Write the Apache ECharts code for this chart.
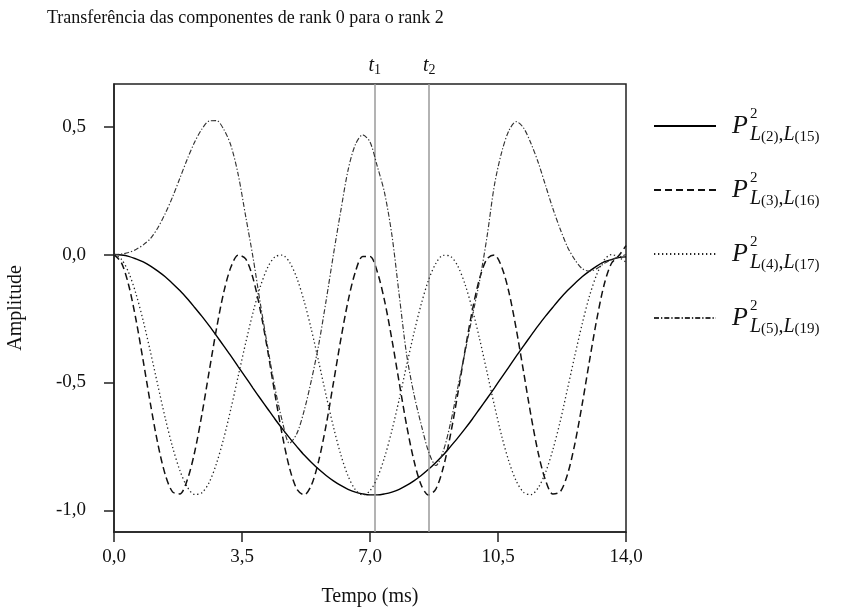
<!DOCTYPE html>
<html><head><meta charset="utf-8">
<script src="https://cdn.jsdelivr.net/npm/echarts@6/dist/echarts.min.js"></script>
<style>html,body{margin:0;padding:0;background:#fff}#c{width:843px;height:616px}</style>
</head><body><div id="c"></div>
<script>
// time samples (ms)
const time = [0,0.2,0.4,0.6,0.8,1.0,1.2,1.4,1.6,1.8,2.0,2.2,2.4,2.6,2.8,3.0,3.2,3.4,3.6,3.8,
  4.0,4.2,4.4,4.6,4.8,5.0,5.2,5.4,5.6,5.8,6.0,6.2,6.4,6.6,6.8,7.0,7.2,7.4,7.6,7.8,
  8.0,8.2,8.4,8.6,8.8,9.0,9.2,9.4,9.6,9.8,10.0,10.2,10.4,10.6,10.8,11.0,11.2,11.4,11.6,11.8,
  12.0,12.2,12.4,12.6,12.8,13.0,13.2,13.4,13.6,13.8,14.0];
// P^2_{L(2),L(15)}  (solid)
const p2_15 = [0,-0.002,-0.007,-0.017,-0.029,-0.045,-0.065,-0.087,-0.113,-0.141,
  -0.172,-0.206,-0.241,-0.278,-0.317,-0.357,-0.397,-0.439,-0.480,-0.522,
  -0.563,-0.603,-0.643,-0.681,-0.717,-0.751,-0.784,-0.813,-0.840,-0.864,
  -0.885,-0.903,-0.918,-0.929,-0.936,-0.940,-0.940,-0.936,-0.929,-0.918,
  -0.903,-0.885,-0.864,-0.840,-0.813,-0.784,-0.751,-0.717,-0.681,-0.643,
  -0.603,-0.563,-0.522,-0.480,-0.439,-0.397,-0.357,-0.317,-0.278,-0.241,
  -0.206,-0.172,-0.141,-0.113,-0.087,-0.065,-0.045,-0.029,-0.020,-0.012,-0.009];
// P^2_{L(3),L(16)}  (dashed)
const p3_16 = [0,-0.031,-0.119,-0.254,-0.417,-0.587,-0.741,-0.860,-0.928,-0.936,
  -0.883,-0.776,-0.628,-0.459,-0.292,-0.148,-0.048,-0.002,-0.017,-0.092,
  -0.217,-0.374,-0.545,-0.705,-0.835,-0.917,-0.940,-0.901,-0.805,-0.667,
  -0.502,-0.333,-0.182,-0.068,-0.008,-0.008,-0.068,-0.182,-0.333,-0.502,
  -0.667,-0.805,-0.901,-0.940,-0.917,-0.835,-0.705,-0.545,-0.374,-0.217,
  -0.092,-0.017,-0.002,-0.048,-0.148,-0.292,-0.459,-0.628,-0.776,-0.883,
  -0.936,-0.928,-0.860,-0.741,-0.587,-0.417,-0.254,-0.119,-0.035,-0.005,0.035];
// P^2_{L(4),L(17)}  (dotted)
const p4_17 = [0,-0.018,-0.070,-0.153,-0.260,-0.383,-0.512,-0.639,-0.752,-0.844,
  -0.908,-0.938,-0.932,-0.892,-0.818,-0.719,-0.601,-0.473,-0.346,-0.227,
  -0.126,-0.051,-0.009,-0.002,-0.030,-0.092,-0.183,-0.295,-0.421,-0.551,
  -0.674,-0.782,-0.866,-0.920,-0.940,-0.924,-0.873,-0.792,-0.687,-0.565,
  -0.434,-0.308,-0.194,-0.100,-0.035,-0.003,-0.007,-0.045,-0.117,-0.215,
  -0.332,-0.460,-0.589,-0.709,-0.810,-0.886,-0.930,-0.939,-0.912,-0.852,
  -0.763,-0.653,-0.525,-0.396,-0.272,-0.163,-0.078,-0.022,0.000,-0.010,-0.030];
// P^2_{L(5),L(19)}  (dash-dot)
const p5_19 = [0,0.002,0.008,0.020,0.038,0.063,0.105,0.160,0.225,0.298,
  0.372,0.438,0.490,0.522,0.524,0.490,0.425,0.310,0.150,-0.010,
  -0.190,-0.360,-0.520,-0.650,-0.738,-0.700,-0.610,-0.490,-0.350,-0.180,
  0.000,0.170,0.330,0.430,0.468,0.440,0.345,0.240,0.075,-0.160,
  -0.390,-0.545,-0.665,-0.770,-0.825,-0.770,-0.660,-0.520,-0.380,-0.240,
  -0.100,0.070,0.270,0.400,0.485,0.520,0.495,0.435,0.360,0.270,
  0.180,0.100,0.030,-0.020,-0.055,-0.065,-0.055,-0.035,-0.020,-0.010,0.000];

const xTicks = [0, 3.5, 7, 10.5, 14];
const yTicks = [-1.0, -0.5, 0.0, 0.5];
const tMarks = [7.13, 8.62];
const tSubs = ['1', '2'];
const seriesKeys = ['a', 'b', 'c', 'd'];
const legendSub = [['2','15'], ['3','16'], ['4','17'], ['5','19']];
const seriesData = [p2_15, p3_16, p4_17, p5_19];

const SERIF = '"Liberation Serif","DejaVu Serif",serif';
const fmt = v => v.toFixed(1).replace('.', ',');
const styles = [
  {color: '#000', width: 1.4, type: 'solid'},
  {color: '#111', width: 1.5, type: [7, 4]},
  {color: '#222', width: 1.3, type: [1.3, 2.7]},
  {color: '#333', width: 1.15, type: [5, 2, 1.3, 2]}
];

const chart = echarts.init(document.getElementById('c'), null, {renderer: 'canvas'});
const series = seriesData.map((vals, k) => ({
  name: seriesKeys[k],
  type: 'line',
  data: time.map((t, i) => [t, vals[i]]),
  symbol: 'none',
  smooth: 0.3,
  lineStyle: styles[k],
  itemStyle: {color: styles[k].color},
  z: 3 + k
}));
series[0].markLine = {
  silent: true,
  symbol: 'none',
  animation: false,
  lineStyle: {color: '#9a9a9a', width: 1.5, type: 'solid'},
  label: {
    show: true, position: 'end', distance: 7,
    formatter: p => '{t|t}{s|' + tSubs[p.dataIndex] + '}',
    rich: {
      t: {fontFamily: SERIF, fontStyle: 'italic', fontSize: 20, color: '#111'},
      s: {fontFamily: SERIF, fontSize: 14, color: '#111', verticalAlign: 'bottom', lineHeight: 22}
    }
  },
  data: tMarks.map(x => ({xAxis: x}))
};

chart.setOption({
  animation: false,
  backgroundColor: '#fff',
  title: {
    text: 'Transferência das componentes de rank 0 para o rank 2',
    left: 47, top: 9, padding: 0,
    textStyle: {fontFamily: SERIF, fontSize: 18, fontWeight: 'normal', color: '#111'}
  },
  grid: {left: 114, right: 217, top: 84, bottom: 84, outerBoundsMode: 'none', containLabel: false,
    show: true, borderColor: '#222', borderWidth: 1.5, backgroundColor: 'transparent'},
  legend: {
    orient: 'vertical', left: 648, top: 102,
    itemWidth: 62, itemHeight: 8, itemGap: 26,
    itemStyle: {opacity: 0},
    data: seriesKeys,
    formatter: name => {
      const k = seriesKeys.indexOf(name);
      const s = legendSub[k];
      return '{P|P}{sp|2}{L|L}{n|(' + s[0] + ')}{L|,L}{n|(' + s[1] + ')}';
    },
    textStyle: {
      rich: {
        P: {fontFamily: SERIF, fontStyle: 'italic', fontSize: 26, color: '#111', lineHeight: 38, padding: [0, 2, 0, 11]},
        sp: {fontFamily: SERIF, fontSize: 15, color: '#111', verticalAlign: 'top', lineHeight: 38, width: 0},
        L: {fontFamily: SERIF, fontStyle: 'italic', fontSize: 20, color: '#111', verticalAlign: 'bottom', lineHeight: 38},
        n: {fontFamily: SERIF, fontSize: 15, color: '#111', verticalAlign: 'bottom', lineHeight: 35}
      }
    }
  },
  xAxis: {
    type: 'value', min: 0, max: 14,
    name: 'Tempo (ms)', nameLocation: 'middle', nameGap: 55,
    nameTextStyle: {fontFamily: SERIF, fontSize: 20, color: '#111'},
    splitLine: {show: false},
    axisLine: {show: true, onZero: false, lineStyle: {color: '#222', width: 1.5}},
    axisTick: {show: true, inside: false, length: 10, customValues: xTicks, lineStyle: {color: '#222', width: 1.5}},
    axisLabel: {customValues: xTicks, formatter: fmt, margin: 16, fontFamily: SERIF, fontSize: 19, color: '#111'}
  },
  yAxis: {
    type: 'value', min: -1.085, max: 0.667,
    name: 'Amplitude', nameLocation: 'middle', nameGap: 88, nameRotate: 90,
    nameTextStyle: {fontFamily: SERIF, fontSize: 20, color: '#111'},
    splitLine: {show: false},
    axisLine: {show: true, onZero: false, lineStyle: {color: '#222', width: 1.5}},
    axisTick: {show: true, inside: false, length: 10, customValues: yTicks, lineStyle: {color: '#222', width: 1.5}},
    axisLabel: {customValues: yTicks, formatter: fmt, margin: 28, fontFamily: SERIF, fontSize: 19, color: '#111'}
  },
  series: series
});
</script></body></html>
